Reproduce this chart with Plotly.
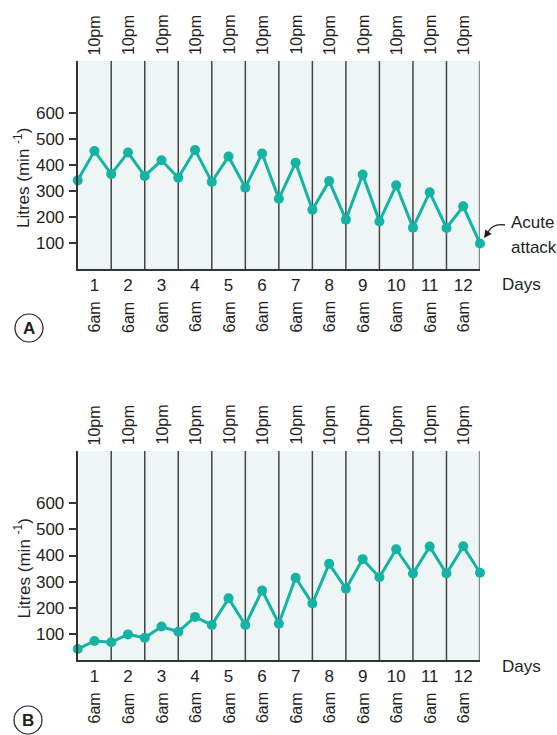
import plotly.graph_objects as go

# ---------------- data ----------------
days = ["1", "2", "3", "4", "5", "6", "7", "8", "9", "10", "11", "12"]
morning_label = "6am"
evening_label = "10pm"
# readings every half day: 6am day1, 10pm day1, 6am day2, ... 6am day13 (25 points)
time_points = [i * 0.5 for i in range(25)]
flow_a = [341, 454, 365, 448, 358, 418, 351, 458, 335, 433, 313, 444, 270,
          409, 228, 338, 190, 363, 183, 322, 159, 295, 158, 241, 98]
flow_b = [42, 73, 68, 98, 85, 128, 108, 165, 134, 236, 134, 266, 139,
          315, 216, 368, 273, 386, 317, 424, 331, 434, 331, 435, 334]
y_ticks = [100, 200, 300, 400, 500, 600]

W, H = 557, 735
FONT = "Liberation Sans, Arial, Helvetica, sans-serif"
TEAL = "#14b3a3"
BG = "#edf6f4"
DARK = "#333333"

def px(x):
    return x / W

def py(y):
    return 1 - y / H

panels = [
    dict(name="A", data=flow_a, top=61, bottom=269, days_y=284, xa="x", ya="y"),
    dict(name="B", data=flow_b, top=451, bottom=660, days_y=666, xa="x2", ya="y2"),
]

fig = go.Figure()
layout = dict(
    width=W, height=H,
    margin=dict(l=0, r=0, t=0, b=0),
    paper_bgcolor="white",
    plot_bgcolor=BG,
    showlegend=False,
    font=dict(family=FONT, size=17, color="#231f20"),
)
shapes = []
annotations = []
xdom = [px(77.7), px(480)]
tick_pos = [i + 0.5 for i in range(len(days))]

for k, p in enumerate(panels):
    suf = "" if k == 0 else "2"
    fig.add_trace(go.Scatter(
        x=time_points, y=p["data"], mode="lines+markers",
        line=dict(color=TEAL, width=3),
        marker=dict(color=TEAL, size=10),
        xaxis=p["xa"], yaxis=p["ya"], cliponaxis=False,
    ))
    layout["xaxis" + suf] = dict(
        domain=xdom, anchor=p["ya"], range=[0, 12],
        tickmode="array", tickvals=tick_pos, ticktext=days,
        ticks="", showline=True, linecolor=DARK, linewidth=2,
        showgrid=False, zeroline=False,
        tickfont=dict(size=17), ticklabelstandoff=0,
    )
    layout["yaxis" + suf] = dict(
        domain=[py(p["bottom"]), py(p["top"])], anchor=p["xa"], range=[0, 800],
        tickmode="array", tickvals=y_ticks,
        ticks="outside", ticklen=7, tickwidth=1.5, tickcolor=DARK,
        showline=True, linecolor=DARK, linewidth=2,
        showgrid=False, zeroline=False,
        tickfont=dict(size=17), ticklabelstandoff=1,
    )
    # vertical day separators
    for d in range(1, 12):
        shapes.append(dict(type="line", xref=p["xa"], yref=p["ya"] + " domain",
                           x0=d, x1=d, y0=0, y1=1,
                           line=dict(color="#444444", width=1.5), layer="below"))
    shapes.append(dict(type="line", xref=p["xa"], yref=p["ya"] + " domain",
                       x0=12, x1=12, y0=0, y1=1,
                       line=dict(color="#8a8a8a", width=2.5), layer="below"))
    # 10pm labels at top, 6am labels at bottom
    top_c = (p["top"] - 26)
    bot_c = (p["bottom"] + 48)
    for t in tick_pos:
        annotations.append(dict(x=t, y=py(top_c), xref=p["xa"], yref="paper",
                                text=evening_label, textangle=-90, showarrow=False,
                                font=dict(size=16), xanchor="center", yanchor="middle"))
        annotations.append(dict(x=t, y=py(bot_c), xref=p["xa"], yref="paper",
                                text=morning_label, textangle=-90, showarrow=False,
                                font=dict(size=16), xanchor="center", yanchor="middle"))
    # y title
    mid = (p["top"] + p["bottom"]) / 2 + 13
    annotations.append(dict(x=px(22), y=py(mid), xref="paper", yref="paper",
                            text="Litres (min <sup>-1</sup>)", textangle=-90,
                            showarrow=False, font=dict(size=17),
                            xanchor="center", yanchor="middle"))
    # Days label
    annotations.append(dict(x=px(521), y=py(p["days_y"]), xref="paper", yref="paper",
                            text="Days", showarrow=False, font=dict(size=17),
                            xanchor="center", yanchor="middle"))

# circled panel letters
for letter, cx, cy in [("A", 29, 328), ("B", 28, 720)]:
    shapes.append(dict(type="circle", xref="paper", yref="paper",
                       x0=px(cx - 14), x1=px(cx + 14), y0=py(cy + 14), y1=py(cy - 14),
                       line=dict(color="#231f20", width=1.2)))
    annotations.append(dict(x=px(cx), y=py(cy), xref="paper", yref="paper",
                            text="<b>" + letter + "</b>", showarrow=False,
                            font=dict(size=17), xanchor="center", yanchor="middle"))

# Acute attack note
annotations.append(dict(x=px(509), y=py(223), xref="paper", yref="paper",
                        text="Acute", showarrow=False, font=dict(size=17),
                        xanchor="left", yanchor="middle"))
annotations.append(dict(x=px(509), y=py(248), xref="paper", yref="paper",
                        text="attack", showarrow=False, font=dict(size=17),
                        xanchor="left", yanchor="middle"))
shapes.append(dict(type="path", xref="paper", yref="paper",
                   path=f"M {px(505)} {py(225)} Q {px(493)} {py(223)} {px(488)} {py(232)}",
                   line=dict(color="#231f20", width=1.3)))
annotations.append(dict(x=px(484), y=py(238), xref="paper", yref="paper",
                        ax=5, ay=-7, showarrow=True, text="",
                        arrowhead=2, arrowsize=1.2, arrowwidth=1.3, arrowcolor="#231f20"))

layout["shapes"] = shapes
layout["annotations"] = annotations
fig.update_layout(**layout)
fig.write_html(
    "out.html",
    config={"displayModeBar": False},
    post_script="document.body.style.margin='0px';document.body.style.overflow='hidden';",
)
